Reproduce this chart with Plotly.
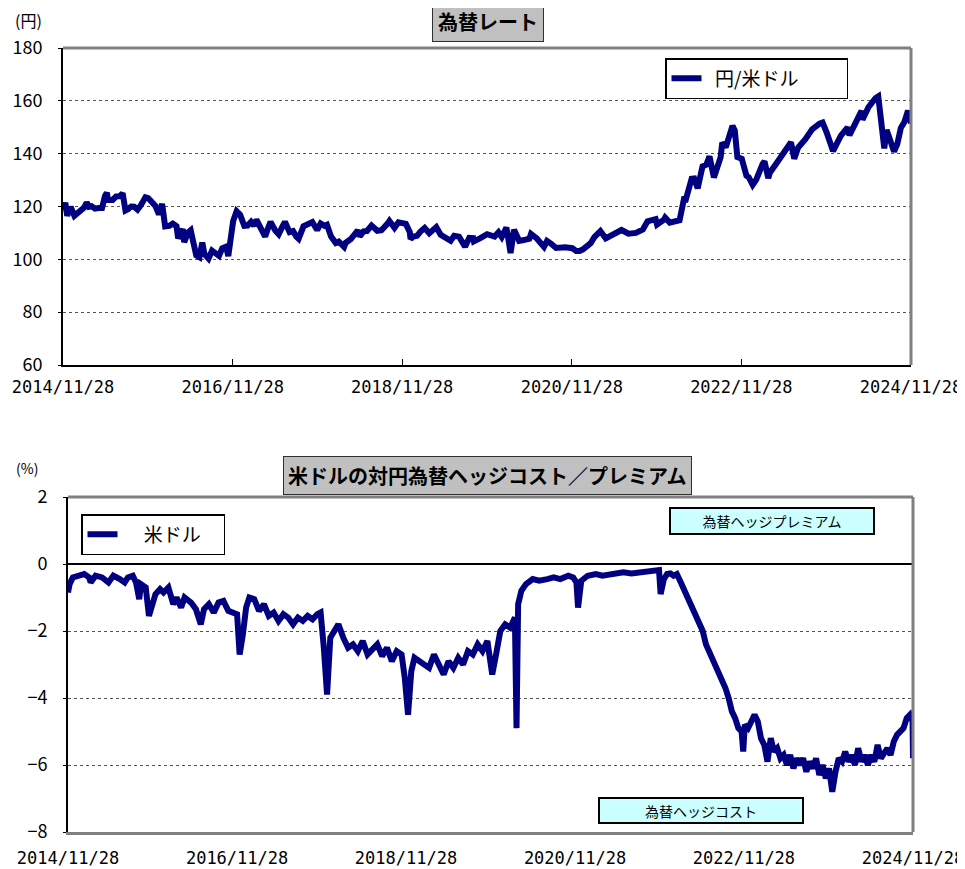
import plotly.graph_objects as go

# ---------------- data ----------------
fx_dates = [
    "2014-11-28", "2014-12-08", "2014-12-16", "2014-12-31", "2015-01-16", "2015-01-30", "2015-02-13", "2015-02-27",
    "2015-03-10", "2015-03-20", "2015-03-31", "2015-04-15", "2015-04-30", "2015-05-15", "2015-05-28", "2015-06-05",
    "2015-06-10", "2015-06-30", "2015-07-15", "2015-07-31", "2015-08-12", "2015-08-24", "2015-09-04", "2015-09-18",
    "2015-09-30", "2015-10-15", "2015-10-30", "2015-11-18", "2015-11-30", "2015-12-15", "2015-12-31", "2016-01-15",
    "2016-01-29", "2016-02-11", "2016-02-29", "2016-03-15", "2016-03-31", "2016-04-07", "2016-04-27", "2016-05-03",
    "2016-05-20", "2016-05-31", "2016-06-16", "2016-06-24", "2016-07-08", "2016-07-20", "2016-07-29", "2016-08-16",
    "2016-08-31", "2016-09-16", "2016-09-30", "2016-10-14", "2016-10-31", "2016-11-09", "2016-11-30", "2016-12-15",
    "2016-12-30", "2017-01-17", "2017-01-31", "2017-02-15", "2017-02-28", "2017-03-10", "2017-03-31", "2017-04-17",
    "2017-04-28", "2017-05-10", "2017-05-31", "2017-06-14", "2017-06-30", "2017-07-11", "2017-07-31", "2017-08-15",
    "2017-08-29", "2017-09-08", "2017-09-29", "2017-10-31", "2017-11-06", "2017-11-27", "2017-12-12", "2017-12-29",
    "2018-01-08", "2018-01-26", "2018-02-15", "2018-02-28", "2018-03-23", "2018-03-30", "2018-04-20", "2018-05-21",
    "2018-05-29", "2018-06-15", "2018-06-29", "2018-07-19", "2018-07-31", "2018-08-13", "2018-08-31", "2018-09-14",
    "2018-09-28", "2018-10-04", "2018-10-26", "2018-11-12", "2018-11-30", "2018-12-14", "2018-12-31", "2019-01-03",
    "2019-01-15", "2019-01-31", "2019-02-15", "2019-02-28", "2019-03-05", "2019-03-25", "2019-04-24", "2019-05-13",
    "2019-05-31", "2019-06-25", "2019-07-10", "2019-07-31", "2019-08-26", "2019-09-13", "2019-09-30", "2019-10-03",
    "2019-10-31", "2019-11-29", "2019-12-31", "2020-01-17", "2020-01-31", "2020-02-20", "2020-02-28", "2020-03-09",
    "2020-03-24", "2020-04-15", "2020-04-30", "2020-05-29", "2020-06-05", "2020-06-30", "2020-07-31", "2020-08-13",
    "2020-08-31", "2020-09-21", "2020-10-30", "2020-11-30", "2020-12-17", "2020-12-31", "2021-01-15", "2021-01-29",
    "2021-02-17", "2021-03-05", "2021-03-31", "2021-04-23", "2021-05-31", "2021-06-30", "2021-07-30", "2021-08-31",
    "2021-09-30", "2021-10-20", "2021-11-24", "2021-11-30", "2021-12-31", "2022-01-04", "2022-01-24", "2022-02-28",
    "2022-03-07", "2022-03-28", "2022-03-31", "2022-04-28", "2022-05-09", "2022-05-24", "2022-06-14", "2022-06-30",
    "2022-07-14", "2022-08-02", "2022-08-31", "2022-09-07", "2022-09-22", "2022-10-21", "2022-10-31", "2022-11-11",
    "2022-11-30", "2022-12-20", "2022-12-30", "2023-01-16", "2023-01-31", "2023-02-28", "2023-03-08", "2023-03-24",
    "2023-03-31", "2023-04-28", "2023-05-30", "2023-06-30", "2023-07-14", "2023-07-31", "2023-08-31", "2023-09-29",
    "2023-10-31", "2023-11-13", "2023-11-30", "2023-12-28", "2024-01-31", "2024-02-29", "2024-03-08", "2024-03-29",
    "2024-04-29", "2024-05-03", "2024-05-29", "2024-06-28", "2024-07-10", "2024-08-05", "2024-08-15", "2024-09-16",
    "2024-09-30", "2024-10-15", "2024-10-31", "2024-11-15", "2024-11-28",
]
fx_values = [
    118.6, 121.4, 116.5, 119.8, 116.5, 117.5, 118.8, 119.6,
    121.5, 119.9, 120.1, 119.2, 119.4, 119.4, 124.0, 125.2,
    122.5, 122.5, 123.8, 123.9, 125.0, 118.5, 119.0, 120.0,
    119.9, 118.8, 120.6, 123.5, 123.2, 121.6, 120.2, 117.0,
    121.0, 112.5, 112.7, 113.5, 112.5, 107.9, 111.5, 106.5,
    110.2, 111.0, 104.2, 101.5, 100.8, 106.4, 102.1, 100.3,
    103.3, 102.3, 101.3, 104.2, 104.8, 101.2, 114.5, 118.2,
    116.9, 112.7, 112.8, 114.2, 112.7, 115.0, 111.4, 108.6,
    111.5, 114.2, 110.8, 109.5, 112.4, 114.2, 110.3, 110.7,
    108.6, 107.8, 112.5, 113.6, 114.1, 111.1, 113.6, 112.7,
    113.1, 108.6, 106.2, 106.7, 104.7, 106.3, 107.6, 111.0,
    108.7, 110.6, 110.7, 112.8, 111.8, 110.8, 111.0, 112.0,
    113.7, 114.5, 111.9, 114.0, 113.5, 113.4, 110.3, 107.7,
    108.6, 108.9, 110.5, 111.4, 111.9, 109.9, 112.2, 109.3,
    108.3, 107.0, 108.9, 108.6, 104.8, 108.1, 108.0, 106.8,
    108.0, 109.5, 108.6, 110.2, 108.4, 112.0, 108.0, 102.4,
    111.2, 107.0, 107.2, 107.8, 109.6, 107.9, 104.7, 107.0,
    105.9, 104.3, 104.6, 104.2, 103.2, 103.2, 103.8, 104.7,
    106.1, 108.4, 110.7, 107.9, 109.6, 111.1, 109.7, 110.0,
    111.3, 114.4, 115.2, 113.2, 115.1, 115.8, 113.9, 115.0,
    114.8, 123.7, 121.7, 130.5, 130.6, 126.9, 135.2, 135.8,
    139.0, 131.0, 138.7, 144.2, 142.4, 150.5, 148.7, 138.7,
    138.1, 131.7, 131.1, 128.2, 130.1, 136.2, 137.1, 130.7,
    132.8, 136.3, 140.3, 144.3, 138.1, 142.3, 145.5, 149.2,
    151.4, 151.8, 148.2, 141.0, 146.8, 149.9, 147.0, 151.3,
    156.2, 152.9, 157.6, 161.0, 161.7, 142.0, 149.0, 140.8,
    143.6, 149.7, 152.1, 156.3, 151.5,
]

hedge_dates = [
    "2014-11-28", "2014-12-05", "2014-12-19", "2015-01-09", "2015-02-06", "2015-02-27", "2015-03-06", "2015-03-27",
    "2015-04-24", "2015-05-22", "2015-06-12", "2015-07-10", "2015-07-31", "2015-08-14", "2015-09-04", "2015-09-18",
    "2015-10-02", "2015-10-09", "2015-10-30", "2015-11-13", "2015-11-27", "2015-12-11", "2015-12-31", "2016-01-15",
    "2016-02-05", "2016-02-26", "2016-03-11", "2016-03-31", "2016-04-15", "2016-05-13", "2016-06-03", "2016-06-24",
    "2016-07-08", "2016-07-29", "2016-08-19", "2016-09-09", "2016-09-30", "2016-10-21", "2016-11-28", "2016-12-09",
    "2016-12-23", "2017-01-06", "2017-01-20", "2017-02-10", "2017-03-03", "2017-03-24", "2017-04-14", "2017-05-05",
    "2017-05-26", "2017-06-16", "2017-07-07", "2017-07-28", "2017-08-18", "2017-09-08", "2017-09-29", "2017-10-20",
    "2017-11-10", "2017-11-24", "2017-12-08", "2017-12-22", "2018-01-05", "2018-01-19", "2018-02-09", "2018-03-02",
    "2018-03-23", "2018-04-13", "2018-05-04", "2018-05-25", "2018-06-15", "2018-07-06", "2018-07-27", "2018-08-17",
    "2018-09-07", "2018-09-28", "2018-10-19", "2018-11-09", "2018-11-23", "2018-12-07", "2018-12-21", "2019-01-04",
    "2019-01-25", "2019-02-15", "2019-03-08", "2019-03-29", "2019-04-19", "2019-05-10", "2019-05-31", "2019-06-21",
    "2019-07-12", "2019-08-02", "2019-08-23", "2019-09-13", "2019-10-04", "2019-10-25", "2019-11-15", "2019-12-06",
    "2019-12-20", "2020-01-10", "2020-01-31", "2020-02-21", "2020-03-06", "2020-03-13", "2020-03-20", "2020-03-27",
    "2020-04-10", "2020-04-30", "2020-05-29", "2020-06-26", "2020-07-31", "2020-08-28", "2020-09-25", "2020-10-30",
    "2020-11-20", "2020-12-04", "2020-12-11", "2020-12-25", "2021-01-22", "2021-02-26", "2021-03-26", "2021-04-30",
    "2021-05-28", "2021-06-25", "2021-07-30", "2021-08-27", "2021-09-24", "2021-10-22", "2021-11-12", "2021-11-26",
    "2021-12-03", "2021-12-17", "2021-12-31", "2022-01-14", "2022-01-28", "2022-02-11", "2022-02-25", "2022-03-11",
    "2022-03-25", "2022-04-08", "2022-04-22", "2022-05-06", "2022-05-20", "2022-06-03", "2022-06-17", "2022-07-01",
    "2022-07-15", "2022-07-29", "2022-08-12", "2022-08-26", "2022-09-09", "2022-09-23", "2022-10-07", "2022-10-21",
    "2022-11-04", "2022-11-18", "2022-11-25", "2022-12-02", "2022-12-16", "2022-12-30", "2023-01-13", "2023-01-27",
    "2023-02-10", "2023-02-24", "2023-03-10", "2023-03-24", "2023-04-07", "2023-04-21", "2023-05-05", "2023-05-19",
    "2023-06-02", "2023-06-16", "2023-06-30", "2023-07-14", "2023-07-28", "2023-08-11", "2023-08-25", "2023-09-08",
    "2023-09-22", "2023-10-06", "2023-10-20", "2023-11-03", "2023-11-17", "2023-12-01", "2023-12-15", "2023-12-29",
    "2024-01-12", "2024-01-26", "2024-02-09", "2024-02-23", "2024-03-08", "2024-03-22", "2024-04-05", "2024-04-19",
    "2024-05-03", "2024-05-17", "2024-05-31", "2024-06-14", "2024-06-28", "2024-07-12", "2024-07-26", "2024-08-09",
    "2024-08-23", "2024-09-06", "2024-09-20", "2024-10-04", "2024-10-18", "2024-11-01", "2024-11-15", "2024-11-26",
    "2024-11-28",
]
hedge_values = [
    -0.85, -0.60, -0.40, -0.35, -0.30, -0.40, -0.55, -0.35,
    -0.40, -0.55, -0.35, -0.45, -0.55, -0.40, -0.35, -0.55,
    -1.05, -0.60, -0.70, -1.55, -1.20, -0.90, -0.75, -0.85,
    -0.70, -1.20, -1.00, -1.30, -1.00, -1.15, -1.35, -1.80,
    -1.35, -1.20, -1.45, -1.15, -1.10, -1.40, -1.50, -2.70,
    -2.10, -1.30, -1.00, -1.05, -1.40, -1.20, -1.55, -1.45,
    -1.70, -1.50, -1.60, -1.80, -1.60, -1.70, -1.55, -1.65,
    -1.50, -1.45, -2.50, -3.90, -2.20, -2.00, -1.80, -2.20,
    -2.50, -2.40, -2.60, -2.30, -2.70, -2.55, -2.40, -2.75,
    -2.50, -2.90, -2.60, -2.70, -3.40, -4.50, -3.20, -2.80,
    -2.90, -3.00, -3.10, -2.70, -3.00, -3.30, -2.90, -3.10,
    -2.80, -3.00, -2.60, -2.70, -2.40, -2.60, -2.30, -3.30,
    -2.80, -2.00, -1.80, -1.90, -1.70, -1.60, -4.90, -1.20,
    -0.80, -0.60, -0.45, -0.50, -0.45, -0.40, -0.45, -0.35,
    -0.40, -0.55, -1.30, -0.50, -0.35, -0.30, -0.35, -0.30,
    -0.28, -0.25, -0.28, -0.25, -0.25, -0.22, -0.20, -0.18,
    -0.90, -0.45, -0.30, -0.28, -0.35, -0.30, -0.50, -0.70,
    -0.90, -1.10, -1.30, -1.60, -1.80, -2.00, -2.40, -2.60,
    -2.90, -3.00, -3.20, -3.50, -3.70, -4.00, -4.40, -4.60,
    -4.90, -5.00, -5.60, -4.80, -4.90, -4.70, -4.50, -4.70,
    -5.20, -5.40, -5.90, -5.20, -5.60, -5.50, -5.80, -5.70,
    -6.00, -5.70, -6.10, -5.80, -6.00, -5.80, -6.20, -5.90,
    -6.10, -5.80, -6.30, -6.00, -6.40, -6.10, -6.80, -6.20,
    -5.80, -5.90, -5.60, -5.90, -5.70, -6.00, -5.50, -5.90,
    -5.70, -6.00, -5.70, -5.90, -5.40, -5.80, -5.60, -5.50,
    -5.70, -5.30, -5.10, -5.00, -4.90, -4.60, -4.50, -4.70,
    -5.80,
]

tick_dates = ["2014-11-28", "2016-11-28", "2018-11-28", "2020-11-28", "2022-11-28", "2024-11-28"]
tick_labels = ["2014/11/28", "2016/11/28", "2018/11/28", "2020/11/28", "2022/11/28", "2024/11/28"]
x_range = ["2014-11-28", "2024-11-28"]

# ---------------- figure ----------------
FONT = "Noto Sans CJK JP, Noto Sans, sans-serif"
MONO = "DejaVu Sans Mono, monospace"
NAVY = "#000080"
OFF = 8  # page body margin of the exported html
W, H = 965 - OFF, 869 - OFF


def px_x(p):
    return (p - OFF) / W


def px_y(p):
    return 1 - (p - OFF) / H


top_dom_y = [px_y(365), px_y(48)]
bot_dom_y = [px_y(832), px_y(497)]
zero_pos = bot_dom_y[0] + (0 - (-8)) / 10 * (bot_dom_y[1] - bot_dom_y[0])

NB = "\u00a0"
fig = go.Figure()
fig.add_trace(go.Scatter(
    x=fx_dates, y=fx_values, mode="lines", name=NB * 2 + "円/米ドル" + NB * 10,
    line=dict(color=NAVY, width=6), xaxis="x", yaxis="y", legend="legend",
))
fig.add_trace(go.Scatter(
    x=hedge_dates, y=hedge_values, mode="lines", name=NB * 5 + "米ドル" + NB * 4,
    line=dict(color=NAVY, width=6), xaxis="x2", yaxis="y2", legend="legend2",
))

tickfont = dict(family=FONT, size=18, color="black")
xtickfont = dict(family=MONO, size=17, color="black")

fig.update_layout(
    width=W, height=H, autosize=False,
    margin=dict(l=0, r=0, t=0, b=0, pad=0),
    paper_bgcolor="white", plot_bgcolor="white",
    font=dict(family=FONT, color="black"),
    xaxis=dict(
        domain=[px_x(63), px_x(911)], anchor="y", type="date", range=x_range, automargin=False,
        tickmode="array", tickvals=tick_dates, ticktext=tick_labels,
        ticks="inside", ticklen=6, tickwidth=1, tickcolor="black",
        showline=True, linecolor="black", linewidth=2, showgrid=False, zeroline=False,
        tickfont=xtickfont, ticklabelstandoff=6,
    ),
    yaxis=dict(
        domain=top_dom_y, anchor="x", range=[60, 180], dtick=20, tick0=60, automargin=False,
        ticks="outside", ticklen=3, tickcolor="black",
        showline=True, linecolor="black", linewidth=2,
        showgrid=True, gridcolor="#555555", griddash="dot", gridwidth=1, zeroline=False,
        tickfont=tickfont, ticklabelstandoff=12,
    ),
    xaxis2=dict(
        domain=[px_x(68), px_x(913)], anchor="y2", type="date", range=x_range, automargin=False,
        tickmode="array", tickvals=tick_dates, ticktext=tick_labels,
        ticks="", showline=True, linecolor="#808080", linewidth=3,
        showgrid=False, zeroline=False, tickfont=xtickfont, ticklabelstandoff=9,
    ),
    xaxis3=dict(
        domain=[px_x(68), px_x(913)], anchor="free", position=zero_pos, overlaying="x2",
        type="date", range=x_range, tickmode="array", tickvals=tick_dates, automargin=False,
        ticks="outside", ticklen=5, tickcolor="black", tickwidth=2,
        showticklabels=False, showline=False, showgrid=False, zeroline=False,
    ),
    yaxis2=dict(
        domain=bot_dom_y, anchor="x2", range=[-8, 2], dtick=2, tick0=-8, automargin=False,
        ticks="outside", ticklen=3, tickcolor="black",
        showline=True, linecolor="black", linewidth=2,
        showgrid=True, gridcolor="#555555", griddash="dot", gridwidth=1,
        zeroline=True, zerolinecolor="black", zerolinewidth=2,
        tickfont=tickfont, ticklabelstandoff=12,
    ),
    legend=dict(
        x=px_x(665), y=px_y(58), xanchor="left", yanchor="top",
        bordercolor="black", borderwidth=1.5, bgcolor="white",
        font=dict(family=FONT, size=19, color="black"),
        itemwidth=30, tracegroupgap=0,
    ),
    legend2=dict(
        x=px_x(81), y=px_y(514), xanchor="left", yanchor="top",
        bordercolor="black", borderwidth=1.5, bgcolor="white",
        font=dict(family=FONT, size=19, color="black"),
        itemwidth=30, tracegroupgap=0,
    ),
    showlegend=True,
)

# gray frame (top / right) of plot areas
for xr, yr in (("x domain", "y domain"), ("x2 domain", "y2 domain")):
    fig.add_shape(type="line", xref=xr, yref=yr, x0=0, x1=1, y0=1, y1=1,
                  line=dict(color="#808080", width=3))
    fig.add_shape(type="line", xref=xr, yref=yr, x0=1, x1=1, y0=0, y1=1,
                  line=dict(color="#808080", width=3))

# titles
fig.add_annotation(text="<b>為替レート</b>", xref="paper", yref="paper",
                   x=px_x(488), y=px_y(22), xanchor="center", yanchor="middle",
                   showarrow=False, font=dict(family=FONT, size=20, color="black"),
                   bgcolor="#c0c0c0", bordercolor="#303030", borderwidth=1, borderpad=5)
fig.add_annotation(text="<b>米ドルの対円為替ヘッジコスト／プレミアム</b>", xref="paper", yref="paper",
                   x=px_x(488), y=px_y(475), xanchor="center", yanchor="middle",
                   showarrow=False, font=dict(family=FONT, size=20, color="black"),
                   bgcolor="#c0c0c0", bordercolor="#303030", borderwidth=1, borderpad=4)

# units
fig.add_annotation(text="(円)", xref="paper", yref="paper", x=px_x(28), y=px_y(20),
                   xanchor="center", yanchor="middle", showarrow=False,
                   font=dict(family=FONT, size=16, color="black"), borderpad=0)
fig.add_annotation(text="(%)", xref="paper", yref="paper", x=px_x(27), y=px_y(468),
                   xanchor="center", yanchor="middle", showarrow=False,
                   font=dict(family=FONT, size=14, color="black"))

# label boxes
fig.add_annotation(text="為替ヘッジプレミアム", xref="paper", yref="paper",
                   x=px_x(772), y=px_y(521), xanchor="center", yanchor="middle",
                   showarrow=False, font=dict(family=FONT, size=14, color="black"),
                   bgcolor="#ccffff", bordercolor="black", borderwidth=2,
                   width=200, height=22, align="center")
fig.add_annotation(text="為替ヘッジコスト", xref="paper", yref="paper",
                   x=px_x(701), y=px_y(810), xanchor="center", yanchor="middle",
                   showarrow=False, font=dict(family=FONT, size=14, color="black"),
                   bgcolor="#ccffff", bordercolor="black", borderwidth=2,
                   width=200, height=21, align="center")

fig.write_html("out.html")
